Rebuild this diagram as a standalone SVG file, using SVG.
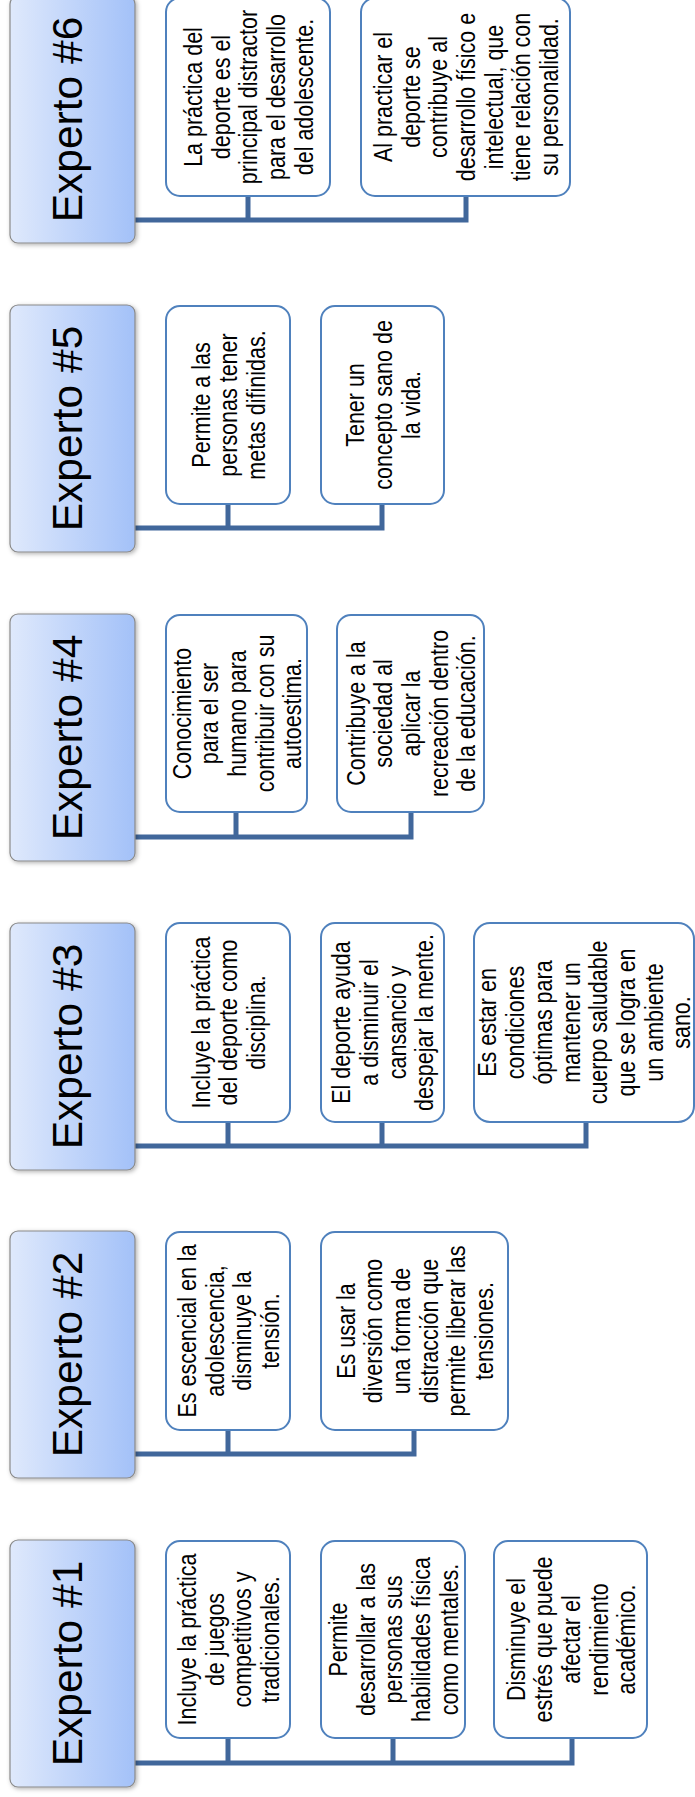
<svg xmlns="http://www.w3.org/2000/svg" width="695" height="1797" viewBox="0 0 695 1797">
<style>
.hdr{fill:url(#hg);stroke:#8a8a8a;stroke-width:1.2;filter:url(#sh)}
.ht{font-family:"Liberation Sans",Arial,sans-serif;font-size:42.5px;fill:#000;text-anchor:middle}
.box{fill:#fff;stroke:#4f81bd;stroke-width:2}
.bt{font-family:"Liberation Sans",Arial,sans-serif;font-size:21.5px;fill:#000;text-anchor:middle}
.con{fill:none;stroke:#41679b;stroke-width:5;stroke-linejoin:miter}
</style>
<defs>
<linearGradient id="hg" x1="0" y1="0" x2="1" y2="0">
<stop offset="0" stop-color="#dfe9fc"/>
<stop offset="1" stop-color="#a3c1f8"/>
</linearGradient>
<filter id="sh" x="-20%" y="-10%" width="140%" height="120%">
<feDropShadow dx="1.5" dy="1.5" stdDeviation="2" flood-color="#000" flood-opacity="0.3"/>
</filter>
</defs>
<rect width="695" height="1797" fill="#fff"/>

<g id="connectors">
<path class="con" d="M135,220 H466 V196 M248,196 V220"/>
<path class="con" d="M135,528 H382 V504 M228,504 V528"/>
<path class="con" d="M135,837 H411 V812 M236,812 V837"/>
<path class="con" d="M135,1146 H586 V1122 M228,1122 V1146 M382,1122 V1146"/>
<path class="con" d="M135,1454 H414 V1430 M228,1430 V1454"/>
<path class="con" d="M135,1763 H572 V1738 M228,1738 V1763 M393,1738 V1763"/>
</g>

<!-- Experto #6 -->
<g id="experto-6">
<rect class="hdr" x="10" y="-4" width="125" height="247" rx="8"/>
<text class="ht" transform="translate(82,119.5) rotate(-90)">Experto #6</text>
</g>
<g id="e6-b1">
<rect class="box" x="166" y="-2" width="164" height="198" rx="14"/>
<text class="bt" transform="translate(248,97) rotate(-90) scale(1,1.22)"><tspan x="0" y="-37.7">La práctica del</tspan><tspan x="0" y="-15">deporte es el</tspan><tspan x="0" y="7.7">principal distractor</tspan><tspan x="0" y="30.4">para el desarrollo</tspan><tspan x="0" y="53.1">del adolescente.</tspan></text>
</g>
<g id="e6-b2">
<rect class="box" x="361" y="-2" width="209" height="198" rx="14"/>
<text class="bt" transform="translate(465.5,97) rotate(-90) scale(1,1.22)"><tspan x="0" y="-60.4">Al practicar el</tspan><tspan x="0" y="-37.7">deporte se</tspan><tspan x="0" y="-15">contribuye al</tspan><tspan x="0" y="7.7">desarrollo físico e</tspan><tspan x="0" y="30.4">intelectual, que</tspan><tspan x="0" y="53.1">tiene relación con</tspan><tspan x="0" y="75.8">su personalidad.</tspan></text>
</g>

<!-- Experto #5 -->
<g id="experto-5">
<rect class="hdr" x="10" y="305" width="125" height="247" rx="8"/>
<text class="ht" transform="translate(82,428.5) rotate(-90)">Experto #5</text>
</g>
<g id="e5-b1">
<rect class="box" x="166" y="306" width="124" height="198" rx="14"/>
<text class="bt" transform="translate(228,405) rotate(-90) scale(1,1.22)"><tspan x="0" y="-15">Permite a las</tspan><tspan x="0" y="7.7">personas tener</tspan><tspan x="0" y="30.4">metas difinidas.</tspan></text>
</g>
<g id="e5-b2">
<rect class="box" x="321" y="306" width="123" height="198" rx="14"/>
<text class="bt" transform="translate(382.5,405) rotate(-90) scale(1,1.22)"><tspan x="0" y="-15">Tener un</tspan><tspan x="0" y="7.7">concepto sano de</tspan><tspan x="0" y="30.4">la vida.</tspan></text>
</g>

<!-- Experto #4 -->
<g id="experto-4">
<rect class="hdr" x="10" y="614" width="125" height="247" rx="8"/>
<text class="ht" transform="translate(82,737.5) rotate(-90)">Experto #4</text>
</g>
<g id="e4-b1">
<rect class="box" x="166" y="615" width="141" height="197" rx="14"/>
<text class="bt" transform="translate(236.5,713.5) rotate(-90) scale(1,1.22)"><tspan x="0" y="-37.7">Conocimiento</tspan><tspan x="0" y="-15">para el ser</tspan><tspan x="0" y="7.7">humano para</tspan><tspan x="0" y="30.4">contribuir con su</tspan><tspan x="0" y="53.1">autoestima.</tspan></text>
</g>
<g id="e4-b2">
<rect class="box" x="337" y="615" width="147" height="197" rx="14"/>
<text class="bt" transform="translate(410.5,713.5) rotate(-90) scale(1,1.22)"><tspan x="0" y="-37.7">Contribuye a la</tspan><tspan x="0" y="-15">sociedad al</tspan><tspan x="0" y="7.7">aplicar la</tspan><tspan x="0" y="30.4">recreación dentro</tspan><tspan x="0" y="53.1">de la educación.</tspan></text>
</g>

<!-- Experto #3 -->
<g id="experto-3">
<rect class="hdr" x="10" y="923" width="125" height="247" rx="8"/>
<text class="ht" transform="translate(82,1046.5) rotate(-90)">Experto #3</text>
</g>
<g id="e3-b1">
<rect class="box" x="166" y="923" width="124" height="199" rx="14"/>
<text class="bt" transform="translate(228,1022.5) rotate(-90) scale(1,1.22)"><tspan x="0" y="-15">Incluye la práctica</tspan><tspan x="0" y="7.7">del deporte como</tspan><tspan x="0" y="30.4">disciplina.</tspan></text>
</g>
<g id="e3-b2">
<rect class="box" x="321" y="923" width="123" height="199" rx="14"/>
<text class="bt" transform="translate(382.5,1022.5) rotate(-90) scale(1,1.22)"><tspan x="0" y="-26.35">El deporte ayuda</tspan><tspan x="0" y="-3.65">a disminuir el</tspan><tspan x="0" y="19.05">cansancio y</tspan><tspan x="0" y="41.75">despejar la mente.</tspan></text>
</g>
<g id="e3-b3">
<rect class="box" x="474" y="923" width="220" height="199" rx="16"/>
<text class="bt" transform="translate(584,1022.5) rotate(-90) scale(1,1.22)"><tspan x="0" y="-71.75">Es estar en</tspan><tspan x="0" y="-49.05">condiciones</tspan><tspan x="0" y="-26.35">óptimas para</tspan><tspan x="0" y="-3.65">mantener un</tspan><tspan x="0" y="19.05">cuerpo saludable</tspan><tspan x="0" y="41.75">que se logra en</tspan><tspan x="0" y="64.45">un ambiente</tspan><tspan x="0" y="87.15">sano.</tspan></text>
</g>

<!-- Experto #2 -->
<g id="experto-2">
<rect class="hdr" x="10" y="1231" width="125" height="247" rx="8"/>
<text class="ht" transform="translate(82,1354.5) rotate(-90)">Experto #2</text>
</g>
<g id="e2-b1">
<rect class="box" x="166" y="1232" width="124" height="198" rx="14"/>
<text class="bt" transform="translate(228,1331) rotate(-90) scale(1,1.22)"><tspan x="0" y="-26.35">Es escencial en la</tspan><tspan x="0" y="-3.65">adolescencia,</tspan><tspan x="0" y="19.05">disminuye la</tspan><tspan x="0" y="41.75">tensión.</tspan></text>
</g>
<g id="e2-b2">
<rect class="box" x="321" y="1232" width="187" height="198" rx="14"/>
<text class="bt" transform="translate(414.5,1331) rotate(-90) scale(1,1.22)"><tspan x="0" y="-49.05">Es usar la</tspan><tspan x="0" y="-26.35">diversión como</tspan><tspan x="0" y="-3.65">una forma de</tspan><tspan x="0" y="19.05">distracción que</tspan><tspan x="0" y="41.75">permite liberar las</tspan><tspan x="0" y="64.45">tensiones.</tspan></text>
</g>

<!-- Experto #1 -->
<g id="experto-1">
<rect class="hdr" x="10" y="1540" width="125" height="247" rx="8"/>
<text class="ht" transform="translate(82,1663.5) rotate(-90)">Experto #1</text>
</g>
<g id="e1-b1">
<rect class="box" x="166" y="1541" width="124" height="197" rx="14"/>
<text class="bt" transform="translate(228,1639.5) rotate(-90) scale(1,1.22)"><tspan x="0" y="-26.35">Incluye la práctica</tspan><tspan x="0" y="-3.65">de juegos</tspan><tspan x="0" y="19.05">competitivos y</tspan><tspan x="0" y="41.75">tradicionales.</tspan></text>
</g>
<g id="e1-b2">
<rect class="box" x="321" y="1541" width="144" height="197" rx="14"/>
<text class="bt" transform="translate(393,1639.5) rotate(-90) scale(1,1.22)"><tspan x="0" y="-37.7">Permite</tspan><tspan x="0" y="-15">desarrollar a las</tspan><tspan x="0" y="7.7">personas sus</tspan><tspan x="0" y="30.4">habilidades física</tspan><tspan x="0" y="53.1">como mentales.</tspan></text>
</g>
<g id="e1-b3">
<rect class="box" x="494" y="1541" width="153" height="197" rx="14"/>
<text class="bt" transform="translate(570.5,1639.5) rotate(-90) scale(1,1.22)"><tspan x="0" y="-37.7">Disminuye el</tspan><tspan x="0" y="-15">estrés que puede</tspan><tspan x="0" y="7.7">afectar el</tspan><tspan x="0" y="30.4">rendimiento</tspan><tspan x="0" y="53.1">académico.</tspan></text>
</g>
</svg>
